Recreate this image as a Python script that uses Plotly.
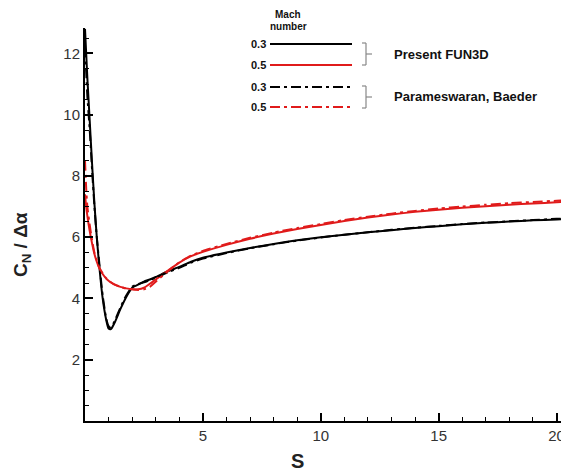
import plotly.graph_objects as go

# ---- data ----
s = [0.0, 0.05, 0.1, 0.2, 0.3, 0.4, 0.5, 0.6, 0.75, 0.9, 1.0, 1.1, 1.25, 1.5, 1.75,
     2.0, 2.25, 2.5, 2.75, 3.0, 3.5, 4.0, 4.5, 5, 6, 7, 8, 9, 10, 11, 12, 13, 14,
     15, 16, 17, 18, 19, 20, 20.3]

fun3d_m03 = [12.8, 12.0, 11.2, 9.8, 8.4, 7.1, 6.0, 5.1, 4.0, 3.3, 3.02, 3.0, 3.2, 3.65, 4.05,
             4.35, 4.45, 4.55, 4.62, 4.7, 4.88, 5.03, 5.2, 5.33, 5.5, 5.65, 5.78, 5.9, 6.0,
             6.08, 6.16, 6.23, 6.3, 6.36, 6.42, 6.47, 6.51, 6.55, 6.58, 6.59]

fun3d_m05 = [7.4, 7.0, 6.7, 6.2, 5.8, 5.45, 5.2, 5.0, 4.8, 4.65, 4.58, 4.52, 4.45, 4.38, 4.33,
             4.3, 4.3, 4.35, 4.48, 4.62, 4.9, 5.17, 5.38, 5.52, 5.75, 5.95, 6.12, 6.27, 6.4,
             6.53, 6.64, 6.74, 6.83, 6.9, 6.96, 7.01, 7.06, 7.1, 7.14, 7.15]

pb_m03 = [12.2, 11.4, 10.6, 9.5, 8.2, 7.0, 6.0, 5.2, 4.1, 3.35, 3.1, 3.05, 3.25, 3.7, 4.1,
          4.38, 4.47, 4.53, 4.6, 4.68, 4.85, 5.0, 5.17, 5.3, 5.48, 5.64, 5.77, 5.89, 5.99,
          6.08, 6.16, 6.24, 6.31, 6.37, 6.43, 6.48, 6.52, 6.56, 6.6, 6.61]

pb_m05 = [8.5, 7.6, 7.0, 6.4, 5.9, 5.5, 5.25, 5.02, 4.82, 4.66, 4.6, 4.53, 4.46, 4.38, 4.32,
          4.3, 4.28, 4.3, 4.38, 4.55, 4.88, 5.18, 5.4, 5.55, 5.78, 5.98, 6.15, 6.3, 6.43,
          6.56, 6.67, 6.77, 6.86, 6.94, 7.0, 7.06, 7.11, 7.15, 7.19, 7.2]

mach_labels = ["0.3", "0.5", "0.3", "0.5"]
group_labels = ["Present FUN3D", "Parameswaran, Baeder"]

BLACK = "#000000"
RED = "#e01b1b"
DASHDOT = "10px,4px,3px,4px"

fig = go.Figure()
series = [
    (fun3d_m03, BLACK, "solid"),
    (fun3d_m05, RED, "solid"),
    (pb_m03, BLACK, DASHDOT),
    (pb_m05, RED, DASHDOT),
]
for ys, col, dash in series:
    fig.add_trace(go.Scatter(x=s, y=ys, mode="lines",
                             line=dict(color=col, width=2, dash=dash, shape="spline", smoothing=0.6),
                             showlegend=False, hoverinfo="skip"))

# ---- page geometry (the page body adds an 8px offset) ----
OFF = 8
W, H = 569 - OFF, 472 - OFF
L, R, T, B = 77, 3, 20, 51
pw, ph = W - L - R, H - T - B


def px(sx):
    """screen x pixel -> paper"""
    return (sx - OFF - L) / pw


def py(sy):
    """screen y pixel -> paper"""
    return (H - B - (sy - OFF)) / ph


def note(x, y, text, size, xanchor="center", angle=0, color="#111"):
    return dict(xref="paper", yref="paper", x=px(x), y=py(y), text=text,
                showarrow=False, xanchor=xanchor, yanchor="middle", textangle=angle,
                font=dict(size=size, color=color, family="Liberation Sans"))


shapes = []
annotations = []
legend_y = [44, 65, 87, 107]
styles = [(BLACK, "solid"), (RED, "solid"), (BLACK, DASHDOT), (RED, DASHDOT)]
for yy, (col, dash), lab in zip(legend_y, styles, mach_labels):
    shapes.append(dict(type="line", xref="paper", yref="paper",
                       x0=px(270), x1=px(352), y0=py(yy), y1=py(yy),
                       line=dict(color=col, width=2, dash=dash)))
    annotations.append(note(258, yy, "<b>" + lab + "</b>", 11))

annotations.append(note(288, 14, "<b>Mach</b>", 10))
annotations.append(note(288, 26, "<b>number</b>", 10))

gc = "#888888"
for (y0, y1), lab in zip([(43, 65), (86, 108)], group_labels):
    for seg in [(366, y0, 366, y1), (362, y0, 366, y0), (362, y1, 366, y1),
                (366, (y0 + y1) / 2, 372, (y0 + y1) / 2)]:
        shapes.append(dict(type="line", xref="paper", yref="paper",
                           x0=px(seg[0]), y0=py(seg[1]), x1=px(seg[2]), y1=py(seg[3]),
                           line=dict(color=gc, width=1.2)))
    annotations.append(note(392, (y0 + y1) / 2, "<b>" + lab + "</b>", 13, xanchor="left"))

annotations.append(note(297, 461, "<b>S</b>", 20, color="#222"))
annotations.append(note(22, 245, "<b>C<sub>N</sub> / Δα</b>", 19, angle=-90, color="#222"))

axis_common = dict(showgrid=False, zeroline=False, showline=True, linecolor="black",
                   linewidth=2, tickmode="linear", tick0=0, ticks="inside", ticklen=8,
                   tickwidth=2, tickcolor="black", labelalias={"0": " "})

fig.update_layout(
    width=W, height=H,
    margin=dict(l=L, r=R, t=T, b=B, autoexpand=False),
    paper_bgcolor="white", plot_bgcolor="white",
    shapes=shapes, annotations=annotations,
    font=dict(family="Liberation Sans", size=15, color="#333"),
    xaxis=dict(range=[0, 20.4], dtick=5,
               minor=dict(dtick=1, ticks="inside", ticklen=4, tickwidth=1, tickcolor="black"),
               **axis_common),
    yaxis=dict(range=[0, 12.83], dtick=2,
               minor=dict(dtick=0.5, ticks="inside", ticklen=4, tickwidth=1, tickcolor="black"),
               **axis_common),
)

fig.write_html("out.html")
